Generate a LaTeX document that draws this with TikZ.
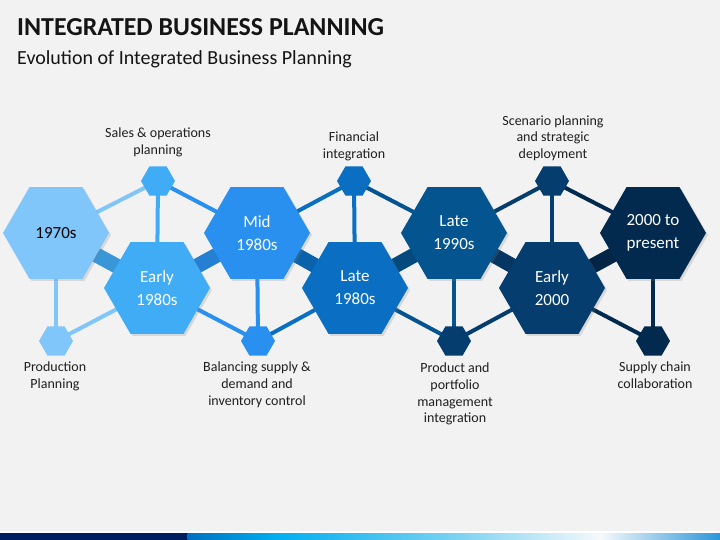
\documentclass[tikz,border=0pt]{standalone}
\usepackage{fontspec}
\setmainfont{Carlito}
\usetikzlibrary{shapes.geometric,shadows}
\pgfdeclarelayer{bg}
\pgfdeclarelayer{links}
\pgfsetlayers{bg,links,main}
\definecolor{cA}{HTML}{80C6FA}
\definecolor{cB}{HTML}{41ACF6}
\definecolor{cC}{HTML}{2A90F0}
\definecolor{cD}{HTML}{0A6FC2}
\definecolor{cE}{HTML}{04548F}
\definecolor{cF}{HTML}{043D6E}
\definecolor{cG}{HTML}{022A4E}
\definecolor{bgc}{HTML}{F2F2F2}
\definecolor{navy}{HTML}{002060}
\definecolor{sb1}{HTML}{0070C0}
\definecolor{sb2}{HTML}{00AEF0}
\definecolor{sb3}{HTML}{7DD3F2}
\definecolor{sb4}{HTML}{F6F9FB}
\definecolor{sb5}{HTML}{2B96D9}
\begin{document}
\begin{tikzpicture}[x=1pt,y=-1pt,
  bighex/.style={regular polygon, regular polygon sides=6, minimum size=106pt, inner sep=0pt,
    fill=#1, text=white, font=\fontsize{17}{23}\selectfont, align=center,
    drop shadow={opacity=0.22, shadow xshift=2pt, shadow yshift=-2pt}},
  smallhex/.style={regular polygon, regular polygon sides=6, minimum size=34pt, inner sep=0pt, fill=#1},
  link/.style={line width=4pt, draw=#1},
  band/.style={line width=15pt, draw=#1},
  lbl/.style={font=\fontsize{14}{16.6}\selectfont, align=center, inner sep=0pt, text=black!88},
]
\useasboundingbox (0,0) rectangle (720,540);
\begin{pgfonlayer}{bg}
  \fill[bgc] (0,0) rectangle (720,540);
  \fill[white] (0,531) rectangle (720,533);
  \fill[navy] (0,533) rectangle (188,540);
  \shade[left color=sb1, right color=sb2] (187.5,533) rectangle (276,540);
  \shade[left color=sb2, right color=sb3] (275.5,533) rectangle (460,540);
  \shade[left color=sb3, right color=sb4] (459.5,533) rectangle (601,540);
  \shade[left color=sb4, right color=sb5] (600.5,533) rectangle (720,540);
\end{pgfonlayer}

% titles
\node[anchor=base west, inner sep=0pt, font=\fontsize{25.9}{30}\selectfont\bfseries, text=black!92] (title) at (17,36) {INTEGRATED BUSINESS PLANNING};
\node[anchor=base west, inner sep=0pt, font=\fontsize{20}{24}\selectfont, text=black!92] (subtitle) at (17,64.5) {Evolution of Integrated Business Planning};

% large hexagons
\node[bighex=cA, text=black] (h1) at (56,233) {1970s};
\node[bighex=cB] (h2) at (157,288) {Early\\1980s};
\node[bighex=cC] (h3) at (257,233) {Mid\\1980s};
\node[bighex=cD] (h4) at (355,288) {Late\\1980s};
\node[bighex=cE] (h5) at (454,233) {Late\\1990s};
\node[bighex=cF] (h6) at (552,288) {Early\\2000};
\node[bighex=cG] (h7) at (653,233) {2000 to\\present};

% small hexagons
\node[smallhex=cB] (t1) at (158,181) {};
\node[smallhex=cD] (t2) at (354,181) {};
\node[smallhex=cF] (t3) at (552,181) {};
\node[smallhex=cA] (b1) at (56,341) {};
\node[smallhex=cC] (b2) at (258,341) {};
\node[smallhex=cF] (b3) at (454,341) {};
\node[smallhex=cG] (b4) at (653,341) {};

% labels
\node[lbl, anchor=south] (l1) at (158,157) {Sales \& operations\\planning};
\node[lbl, anchor=south] (l2) at (354,161) {Financial\\integration};
\node[lbl, anchor=south] (l3) at (553,161) {Scenario planning\\and strategic\\deployment};
\node[lbl, anchor=north] (l4) at (55,362) {Production\\Planning};
\node[lbl, anchor=north] (l5) at (257,362) {Balancing supply \&\\demand and\\inventory control};
\node[lbl, anchor=north] (l6) at (455,363) {Product and\\portfolio\\management\\integration};
\node[lbl, anchor=north] (l7) at (655,362) {Supply chain\\collaboration};

\begin{pgfonlayer}{links}
  \draw[link=cA] (t1.center) -- (h1.center);
  \draw[link=cB] (t1.center) -- (h2.center);
  \draw[link=cC] (t1.center) -- (h3.center);
  \draw[link=cA] (b1.center) -- (h1.center);
  \draw[link=cA] (b1.center) -- (h2.center);
  \draw[link=cC] (b2.center) -- (h2.center);
  \draw[link=cC] (b2.center) -- (h3.center);
  \draw[link=cD] (b2.center) -- (h4.center);
  \draw[link=cD] (t2.center) -- (h3.center);
  \draw[link=cD] (t2.center) -- (h4.center);
  \draw[link=cE] (t2.center) -- (h5.center);
  \draw[link=cE] (b3.center) -- (h4.center);
  \draw[link=cE] (b3.center) -- (h5.center);
  \draw[link=cF] (b3.center) -- (h6.center);
  \draw[link=cF] (t3.center) -- (h5.center);
  \draw[link=cF] (t3.center) -- (h6.center);
  \draw[link=cG] (t3.center) -- (h7.center);
  \draw[link=cG] (b4.center) -- (h7.center);
  \draw[link=cG] (b4.center) -- (h6.center);
  \draw[band=cB!88!black] (h1.center) -- (h2.center);
  \draw[band=cC!88!black] (h2.center) -- (h3.center);
  \draw[band=cD!88!black] (h3.center) -- (h4.center);
  \draw[band=cE!88!black] (h4.center) -- (h5.center);
  \draw[band=cF!88!black] (h5.center) -- (h6.center);
  \draw[band=cG!88!black] (h6.center) -- (h7.center);
\end{pgfonlayer}
\end{tikzpicture}
\end{document}
